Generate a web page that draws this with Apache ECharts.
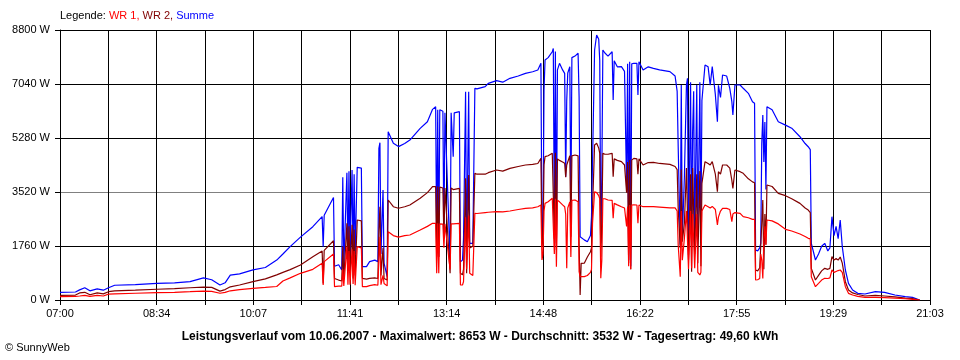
<!DOCTYPE html>
<html>
<head>
<meta charset="utf-8">
<script src="https://cdn.jsdelivr.net/npm/echarts@6/dist/echarts.min.js"></script>
<style>html,body{margin:0;padding:0;background:#fff}#c{width:960px;height:360px}</style>
</head>
<body>
<div id="c"></div>
<script>
const tickLabels = ['07:00','08:34','10:07','11:41','13:14','14:48','16:22','17:55','19:29','21:03'];
const times = ['07:00','07:15','07:19','07:24','07:29','07:36','07:42','07:47','07:53','08:13','08:34','08:51','09:06','09:19','09:27','09:35','09:40','09:45','09:54','10:07','10:19','10:30','10:36','10:43','10:53','11:05','11:14','11:15','11:16','11:25','11:26','11:30','11:33','11:34','11:35','11:38','11:39','11:40','11:41','11:43','11:44','11:45','11:46','11:48','11:52','11:53','11:57','12:00','12:05','12:08','12:09','12:10','12:11','12:13','12:14','12:17','12:18','12:23','12:28','12:34','12:39','12:49','12:56','13:01','13:04','13:05','13:06','13:07','13:08','13:11','13:12','13:13','13:18','13:19','13:21','13:22','13:27','13:28','13:30','13:31','13:33','13:34','13:36','13:37','13:40','13:42','13:44','13:52','13:55','14:03','14:09','14:16','14:24','14:31','14:38','14:43','14:46','14:47','14:48','14:49','14:50','14:53','14:57','14:58','14:59','15:00','15:01','15:02','15:04','15:07','15:09','15:10','15:11','15:12','15:14','15:15','15:16','15:19','15:22','15:23','15:24','15:25','15:28','15:31','15:34','15:35','15:36','15:38','15:40','15:42','15:43','15:44','15:45','15:46','15:48','15:51','15:55','15:56','15:57','16:00','16:04','16:07','16:09','16:10','16:11','16:12','16:13','16:14','16:16','16:19','16:20','16:21','16:25','16:30','16:35','16:41','16:51','16:56','16:58','16:59','17:01','17:02','17:03','17:05','17:07','17:08','17:09','17:11','17:12','17:13','17:14','17:15','17:17','17:18','17:20','17:21','17:22','17:25','17:28','17:30','17:32','17:33','17:35','17:37','17:38','17:40','17:42','17:46','17:49','17:51','17:52','17:54','17:59','18:02','18:07','18:11','18:13','18:14','18:16','18:18','18:19','18:20','18:21','18:22','18:23','18:24','18:25','18:30','18:36','18:43','18:49','18:57','19:02','19:05','19:07','19:08','19:12','19:15','19:18','19:21','19:24','19:26','19:28','19:30','19:32','19:34','19:36','19:38','19:41','19:44','19:48','19:53','20:00','20:10','20:19','20:29','20:39','20:46','20:53'];
const summe = [250,260,330,400,300,360,320,400,480,500,540,560,600,720,660,490,560,810,850,980,1060,1300,1500,1740,2050,2390,2720,1740,2760,3340,1100,1150,980,4000,1100,4150,1300,4200,1500,4240,1195,4100,1500,4325,4300,1086,1086,1250,1300,1250,4943,5128,1500,3585,1200,760,5485,5106,5000,5100,5214,5594,5811,6214,6300,1738,6200,1411,6200,6150,2063,6100,1304,6100,4671,6100,6138,1249,1300,2000,6790,1300,6790,1847,1847,6899,6880,6953,7062,7148,7100,7225,7300,7388,7440,7496,7714,1955,2281,6844,7822,7900,8092,8200,2281,8100,1847,7500,7714,7500,7388,4020,6500,7400,7605,2716,7900,7950,8040,6600,2063,2063,1960,1901,2100,2716,4500,8148,8637,8500,7800,1847,4000,8148,8050,7950,8092,6518,7800,7600,7605,7450,3693,7700,1300,7767,1100,7700,7714,7714,6681,7767,7496,7600,7551,7500,7442,7300,6800,5000,1800,7008,2000,4000,7008,7225,1467,7100,1800,5500,6800,2010,7008,2000,7100,2100,6500,7659,7600,7000,7605,7605,6700,5811,7000,6600,7333,7300,6900,6463,6029,7008,7008,6900,6736,6463,6410,1630,1600,1700,1847,5106,6029,4500,5800,3600,6300,6200,5811,5700,5600,5322,5100,4996,4900,1847,1304,1500,1750,1847,1600,1700,2716,2100,2400,2000,2607,1738,978,543,326,217,196,271,250,163,109,87,0];
const wr2 = [150,160,230,250,170,230,200,270,300,320,350,370,400,420,410,290,340,430,490,600,690,820,900,990,1140,1410,1600,540,1620,1930,700,650,620,1740,680,2500,1000,2400,900,2450,700,2300,800,2607,2580,706,680,706,720,700,2281,3041,800,1700,700,650,3259,3040,2990,3040,3096,3314,3500,3693,3700,1411,3700,1400,3680,3650,2000,3650,869,3650,3600,3650,3640,869,820,1000,3966,869,4074,1700,1750,4128,4100,4100,4150,4237,4200,4291,4350,4400,4420,4450,4617,1738,2000,4400,4671,4700,4780,4800,2000,4800,1630,4600,4550,4500,4455,4000,4400,4450,4700,2063,4700,4726,4700,1847,163,1195,1200,1400,1575,1700,3000,5051,5106,4950,4780,1412,2500,4780,4750,4750,4780,4020,4600,4550,4509,4400,3500,4500,1200,4563,1000,4560,4617,4600,4100,4600,4400,4480,4487,4450,4422,4350,4250,3000,1684,4250,1900,2500,4300,4300,1300,4100,923,4300,4300,1500,4100,1200,4200,1100,3800,4509,4450,4400,4509,4450,4100,3530,4180,4100,4400,4400,4300,3900,3640,4237,4183,4128,3950,3850,3823,978,950,1050,1100,2500,3259,1000,2800,1800,3748,3700,3476,3400,3300,3150,3000,2933,2850,1032,652,800,950,1032,1000,1032,1412,1300,1350,1300,1400,1200,597,326,230,180,130,150,130,100,60,50,0];
const wr1 = [110,115,130,150,120,150,130,190,200,220,240,250,270,290,280,220,250,300,340,380,410,440,620,720,870,1000,1200,490,1250,1500,434,450,450,1000,460,1740,500,1600,500,1650,520,1600,480,1738,1700,434,434,470,500,480,1304,2063,500,800,540,460,2227,2100,2050,2100,2118,2281,2400,2499,2500,869,2500,869,2480,2470,1700,2480,1000,2480,2480,2490,2499,489,489,600,2700,1000,2750,869,800,2825,2820,2850,2860,2879,2870,2900,2950,2988,3000,3040,3096,1304,1500,2900,3150,3200,3314,3300,1500,3300,1086,3250,3200,3100,3041,2800,1032,3000,3200,1400,3250,3259,3200,923,760,760,760,800,900,1000,2500,3530,3500,3400,3300,706,1300,3300,3300,3259,3250,2662,3150,3100,3041,3000,2400,3050,1100,3096,1000,3096,3100,3096,2500,3096,3041,3041,3041,3030,3000,3000,2900,1800,760,2900,1300,2000,2900,2900,1000,2900,1032,2800,2800,1032,2800,900,815,900,2900,3096,3041,3000,3050,3000,2950,2444,2700,2900,2988,2988,2950,2552,2800,2850,2825,2716,2680,2629,2629,652,660,700,1500,1300,700,1955,2400,1800,2607,2580,2480,2303,2250,2150,2070,2010,1990,760,434,540,650,706,700,720,978,900,930,960,978,900,434,217,163,120,87,87,80,60,40,20,0];

// seconds after 07:00
function toSec(t){ const p=t.split(':'); return ((+p[0])*60 + (+p[1]) - 420)*60; }
function pairs(vals){ return times.map((t,i)=>[toSec(t), vals[i]]); }

const FONT = 'Liberation Sans, Arial, sans-serif';
const chart = echarts.init(document.getElementById('c'), null, {renderer:'canvas'});
chart.setOption({
  animation: false,
  backgroundColor: '#fff',
  textStyle: {fontFamily: FONT},
  grid: {left: 60, right: 30, top: 30, bottom: 60, containLabel: false},
  xAxis: {
    type: 'value', min: 0, max: 50580, interval: 2810,
    axisLine: {show: true, lineStyle: {color: '#000', width: 1}},
    axisTick: {show: true, length: 5, lineStyle: {color: '#000'}},
    axisLabel: {
      color: '#000', fontSize: 11, fontFamily: FONT, margin: 8,
      formatter: function(v){ const k = Math.round(v/2810); return (k % 2 === 0) ? tickLabels[k/2] : ''; }
    },
    splitLine: {show: true, lineStyle: {color: '#000', width: 1}}
  },
  yAxis: {
    type: 'value', min: 0, max: 8800, interval: 1760,
    axisLine: {show: true, lineStyle: {color: '#000', width: 1}},
    axisTick: {show: true, length: 5, lineStyle: {color: '#000'}},
    axisLabel: {color: '#000', fontSize: 11, fontFamily: FONT, margin: 10, formatter: function(v){ return String(Math.round(v)) + ' W'; }},
    splitLine: {show: true, lineStyle: {color: ['#000','#000','#808080','#000','#000','#000'], width: 1}}
  },
  series: [
    {name: 'Summe', type: 'line', data: pairs(summe), showSymbol: false, symbol: 'none', lineStyle: {color: '#0000ff', width: 1.2}, itemStyle: {color: '#0000ff'}},
    {name: 'WR 2', type: 'line', data: pairs(wr2), showSymbol: false, symbol: 'none', lineStyle: {color: '#800000', width: 1.2}, itemStyle: {color: '#800000'}},
    {name: 'WR 1', type: 'line', data: pairs(wr1), showSymbol: false, symbol: 'none', lineStyle: {color: '#ff0000', width: 1.2}, itemStyle: {color: '#ff0000'}}
  ],
  graphic: [
    {type: 'text', left: 60, top: 10, style: {
      text: '{k|Legende: }{a|WR 1, }{b|WR 2, }{c|Summe}',
      font: '11px ' + FONT,
      rich: {
        k: {fill: '#000', fontSize: 11, fontFamily: FONT},
        a: {fill: '#ff0000', fontSize: 11, fontFamily: FONT},
        b: {fill: '#800000', fontSize: 11, fontFamily: FONT},
        c: {fill: '#0000ff', fontSize: 11, fontFamily: FONT}
      }
    }},
    {type: 'text', x: 480, y: 337, style: {
      text: 'Leistungsverlauf vom 10.06.2007 - Maximalwert: 8653 W - Durchschnitt: 3532 W - Tagesertrag: 49,60 kWh',
      fill: '#000', font: 'bold 12px ' + FONT, textAlign: 'center', textVerticalAlign: 'middle'
    }},
    {type: 'text', x: 5, y: 348, style: {
      text: '© SunnyWeb', fill: '#000', font: '11px ' + FONT, textAlign: 'left', textVerticalAlign: 'middle'
    }}
  ]
});
</script>
</body>
</html>
